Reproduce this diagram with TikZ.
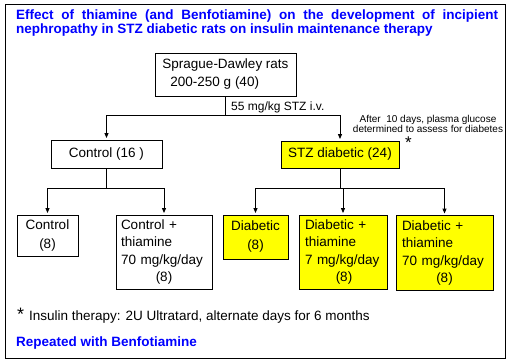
\documentclass[tikz,border=0pt]{standalone}
\usepackage{fontspec}
\setmainfont{Liberation Sans}
\usetikzlibrary{arrows.meta}
\definecolor{tblue}{RGB}{0,0,255}
\definecolor{tyellow}{RGB}{255,255,0}
\tikzset{
  boxbase/.style={draw,line width=0.9pt,inner sep=0pt,font=\fontsize{13.5}{17.5}\selectfont},
  wbox/.style={boxbase,fill=white},
  ybox/.style={boxbase,fill=tyellow},
  conn/.style={line width=0.9pt},
  arr/.style={conn,-{Triangle[length=5pt,width=4pt]},shorten >=1.5pt},
  bluetext/.style={text=tblue,font=\fontsize{13.5}{14}\selectfont\bfseries,inner sep=0pt},
  plaintext/.style={inner sep=0pt}
}
\begin{document}
\begin{tikzpicture}[x=1pt,y=-1pt]
\useasboundingbox (0,0) rectangle (512,362);
\fill[white] (0,0) rectangle (512,362);
\draw[line width=0.9pt] (5,4) rectangle (505,358);

% title
\node[bluetext,anchor=base west,text width=482pt,align=justify] (title) at (16,19.8)
  {Effect of thiamine (and Benfotiamine) on the development of incipient nephropathy in STZ diabetic rats on insulin maintenance therapy};

% top box
\node[wbox,minimum width=141pt,minimum height=43pt,align=left,font=\fontsize{13.5}{18}\selectfont] (sd) at (225.5,74.5)
  {Sprague-Dawley rats\\\hspace*{8pt}200-250 g (40)};

% second level
\node[wbox,minimum width=111pt,minimum height=28pt] (c16) at (106.5,154) {Control (16 )};
\node[ybox,minimum width=118pt,minimum height=27pt] (stz) at (340,154.5) {STZ diabetic (24)};

% bottom level
\node[wbox,minimum width=61pt,minimum height=41pt,align=center,font=\fontsize{13.5}{19}\selectfont] (b1) at (47.5,235.5) {Control\\(8)};
\node[wbox,minimum width=96pt,minimum height=74pt,text width=86pt,align=left] (b2) at (164,252)
  {Control +\\thiamine\\70 mg/kg/day\\\makebox[86pt][c]{(8)}};
\node[ybox,minimum width=65pt,minimum height=44pt,align=center,font=\fontsize{13.5}{19}\selectfont] (b3) at (255.5,237) {Diabetic\\(8)};
\node[ybox,minimum width=88pt,minimum height=74pt,text width=76pt,align=left] (b4) at (343,252)
  {Diabetic +\\thiamine\\7 mg/kg/day\\\makebox[78pt][c]{(8)}};
\node[ybox,minimum width=97pt,minimum height=75pt,text width=85pt,align=left] (b5) at (444.5,253)
  {Diabetic +\\thiamine\\70 mg/kg/day\\\makebox[85pt][c]{(8)}};

% connectors
\path (sd.south) ++(0,19) coordinate (j1);
\draw[conn] (sd.south) -- (j1);
\draw[arr] (j1) -| (c16.north);
\draw[arr] (j1) -| (stz.north);

\path (c16.south) ++(0,20) coordinate (j2);
\draw[conn] (c16.south) -- (j2);
\draw[arr] (j2) -| (b1.north);
\draw[arr] (j2) -| (b2.north);

\path (stz.south) ++(0,20) coordinate (j3);
\draw[conn] (stz.south) -- (j3);
\draw[arr] (j3) -| (b3.north);
\draw[arr] (j3) -| (b4.north);
\draw[arr] (j3) -| (b5.north);

% labels
\node[plaintext,anchor=west,font=\fontsize{12}{12}\selectfont] (stzlab) at (231,107.5) {55 mg/kg STZ i.v.};
\node[fill=white,inner sep=1pt,align=center,font=\fontsize{10}{10}\selectfont] (note) at (428,124)
  {After\ \ 10 days, plasma glucose\\determined to assess for diabetes};
\node[plaintext,anchor=base,font=\fontsize{17}{17}\selectfont] (star) at (408.5,148.5) {*};

% footnote
\node[plaintext,anchor=base west,font=\fontsize{13.5}{14}\selectfont] (foot) at (17,320)
  {{\fontsize{18}{18}\selectfont *}\hspace{5pt}Insulin therapy: 2U Ultratard, alternate days for 6 months};
\node[bluetext,anchor=base west] (rep) at (16,346.8) {Repeated with Benfotiamine};
\end{tikzpicture}
\end{document}
